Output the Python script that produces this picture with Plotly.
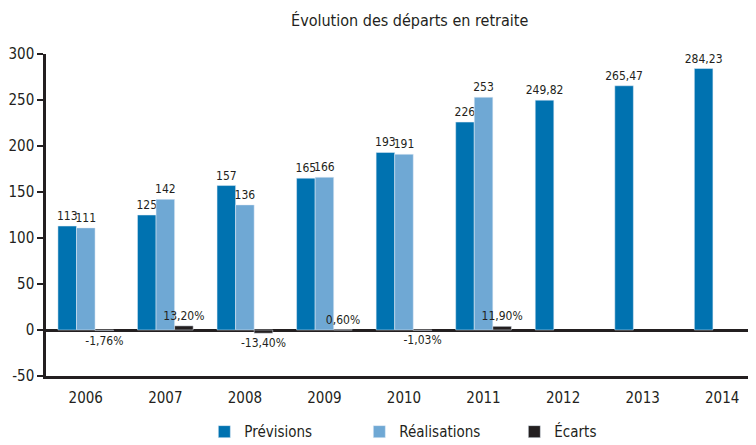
import plotly.graph_objects as go

# Données
annees = ['2006', '2007', '2008', '2009', '2010', '2011', '2012', '2013', '2014']
previsions = [113, 125, 157, 165, 193, 226, 249.82, 265.47, 284.23]
previsions_txt = ['113', '125', '157', '165', '193', '226', '249,82', '265,47', '284,23']
realisations = [111, 142, 136, 166, 191, 253, None, None, None]
realisations_txt = ['111', '142', '136', '166', '191', '253', '', '', '']
# écarts : hauteur des barres telle que dessinée, et libellé en %
ecarts_hauteur = [-0.6, 4.5, -3.5, 0.2, -0.4, 4.0, None, None, None]
ecarts_txt = ['-1,76%', '13,20%', '-13,40%', '0,60%', '-1,03%', '11,90%', '', '', '']
y_ticks = [-50, 0, 50, 100, 150, 200, 250, 300]
y_ticktext = ['-50', '0', '50', '100', '150', '200', '250', '300']

FONT = 'DejaVu Sans Condensed, Liberation Sans Narrow, Roboto, sans-serif'
DARK = '#231f20'
lbl = dict(family=FONT, size=12, color=DARK)

fig = go.Figure()
fig.add_trace(go.Bar(x=annees, y=previsions, name='Prévisions', marker_color='#0072b0',
                     text=previsions_txt, textposition='outside', textfont=lbl,
                     constraintext='none', cliponaxis=False))
fig.add_trace(go.Bar(x=annees, y=realisations, name='Réalisations', marker_color='#6fa8d4',
                     text=realisations_txt, textposition='outside', textfont=lbl,
                     constraintext='none', cliponaxis=False))
fig.add_trace(go.Bar(x=annees, y=ecarts_hauteur, name='Écarts', marker_color=DARK,
                     text=ecarts_txt, textposition='outside', textfont=lbl,
                     constraintext='none', cliponaxis=False))

# la page ajoute une marge de 8 px autour de la figure
fig.update_layout(
    width=748, height=437,
    margin=dict(l=34, r=0, t=46, b=69),
    plot_bgcolor='white', paper_bgcolor='white',
    barmode='group', bargap=0.3, bargroupgap=0,
    font=dict(family=FONT, size=15, color=DARK),
    title=dict(text='Évolution des départs en retraite', x=0.537, xanchor='center',
               y=0.9725, yanchor='middle', font=dict(family=FONT, size=16, color=DARK)),
    xaxis=dict(type='category', range=[-0.5, 8.425], showline=True, linewidth=2.5,
               linecolor=DARK, ticks='', showgrid=False, tickfont=dict(size=15),
               ticklabelstandoff=6),
    xaxis2=dict(overlaying='x', anchor='free', position=50 / 350, range=[-0.5, 8.425],
                tickvals=[k + 0.5 for k in range(8)], ticks='outside', ticklen=5,
                tickwidth=2, tickcolor=DARK, showticklabels=False, showgrid=False,
                showline=False, zeroline=False),
    yaxis=dict(range=[-50, 300], tickvals=y_ticks, ticktext=y_ticktext, showline=True,
               linewidth=2.5, linecolor=DARK, ticks='outside', ticklen=6, tickwidth=2,
               tickcolor=DARK, showgrid=False, zeroline=True, zerolinewidth=2.5,
               zerolinecolor=DARK, tickfont=dict(size=15)),
    legend=dict(orientation='h', x=0.223, xanchor='left', yref='container', y=0.03,
                yanchor='middle', entrywidth=110, font=dict(size=15)),
    showlegend=True,
)

fig.write_html('out.html')
